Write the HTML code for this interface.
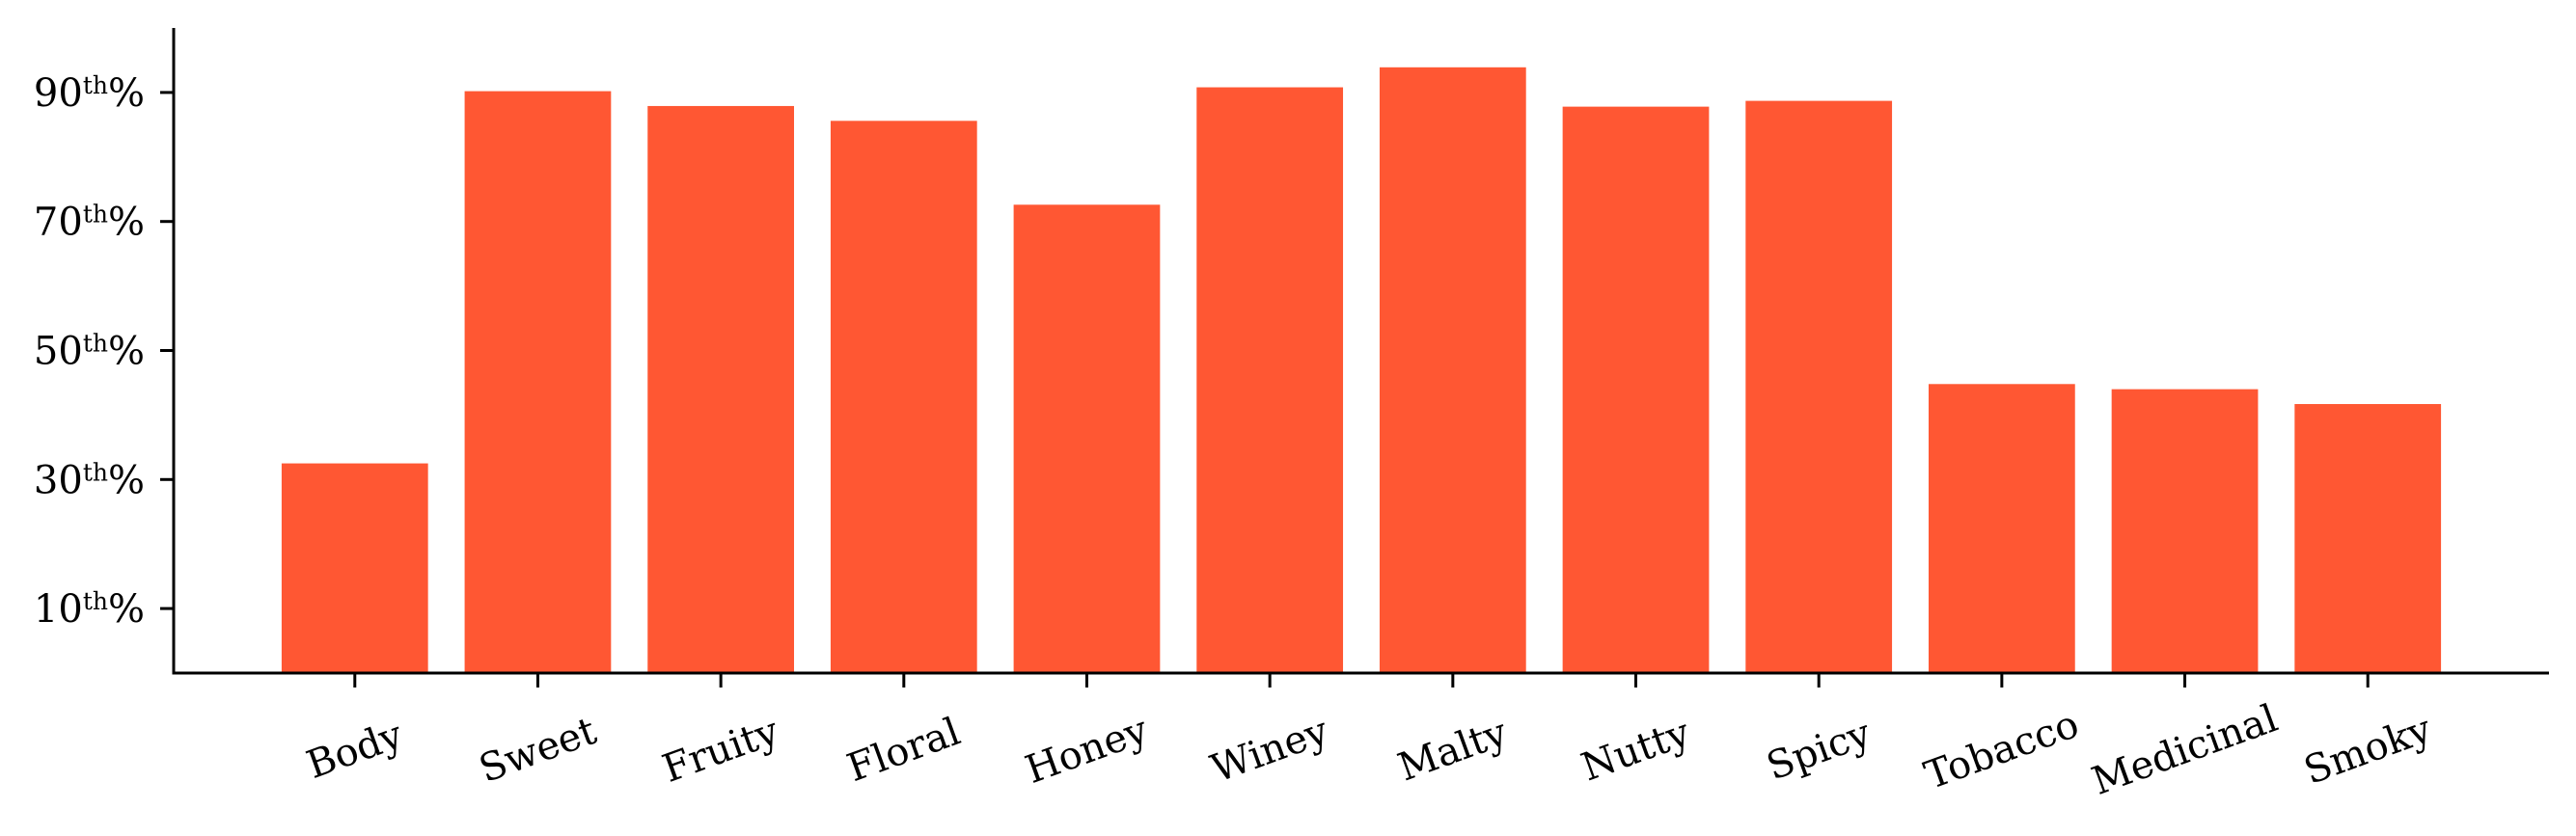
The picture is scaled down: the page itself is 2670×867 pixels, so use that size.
<!DOCTYPE html>
<html><head><meta charset="utf-8"><style>
html,body{margin:0;padding:0;background:#fff;}
svg{display:block;font-family:"DejaVu Serif","Liberation Serif",serif;}
</style></head><body>
<svg id="chart" width="2670" height="867" viewBox="0 0 2670 867" xmlns="http://www.w3.org/2000/svg">
<g id="bars"></g>
<g id="yaxis"></g>
<g id="xaxis"></g>
</svg>
<script>
const categories = ["Body","Sweet","Fruity","Floral","Honey","Winey","Malty","Nutty","Spicy","Tobacco","Medicinal","Smoky"];
const values = [32.5, 90.2, 87.9, 85.6, 72.6, 90.8, 93.9, 87.8, 88.7, 44.8, 44.0, 41.7];
const yTicks = [10, 30, 50, 70, 90];

const NS = "http://www.w3.org/2000/svg";
const pLeft = 180, pRight = 2642, pTop = 29, pBottom = 698;
const yMin = 0, yMax = 100;
const xMin = -0.99, xMax = categories.length - 1 + 0.99;
function xs(i){ return pLeft + (i - xMin) / (xMax - xMin) * (pRight - pLeft); }
function ys(v){ return pBottom - (v - yMin) / (yMax - yMin) * (pBottom - pTop); }
const bw = 0.8 * (xs(1) - xs(0));
function mk(tag, attrs, parent){
  const e = document.createElementNS(NS, tag);
  for (const k in attrs) e.setAttribute(k, attrs[k]);
  parent.appendChild(e);
  return e;
}
const gb = document.getElementById('bars');
const gy = document.getElementById('yaxis');
const gx = document.getElementById('xaxis');

values.forEach((v, i) => {
  const r = mk('rect', {x: xs(i) - bw/2, y: ys(v), width: bw, height: ys(0) - ys(v), fill: '#FF5733'}, gb);
  
  
});

const yl = mk('line', {x1: pLeft, y1: pTop, x2: pLeft, y2: pBottom + 1.5, stroke: '#000', 'stroke-width': 3}, gy);


const xl = mk('line', {x1: pLeft - 1.5, y1: pBottom, x2: pRight, y2: pBottom, stroke: '#000', 'stroke-width': 3}, gx);



yTicks.forEach(t => {
  const y = ys(t);
  const tk = mk('line', {x1: pLeft - 14, y1: y, x2: pLeft, y2: y, stroke: '#000', 'stroke-width': 3}, gy);
  
  
  const tx = mk('text', {x: 150, y: y + 14, 'text-anchor': 'end', 'font-size': 40, fill: '#000'}, gy);
  
  
  tx.appendChild(document.createTextNode(String(t)));
  const sup = mk('tspan', {'font-size': 25, dy: -13}, tx);
  sup.textContent = 'th';
  const pc = mk('tspan', {dy: 13}, tx);
  pc.textContent = '%';
});

categories.forEach((c, i) => {
  const x = xs(i);
  const tk = mk('line', {x1: x, y1: pBottom, x2: x, y2: pBottom + 15, stroke: '#000', 'stroke-width': 3}, gx);
  
  
  const cy = 778;
  const tx = mk('text', {x: x, y: cy, 'text-anchor': 'middle', 'dominant-baseline': 'central', 'font-size': 40, fill: '#000', transform: 'rotate(-20 ' + x + ' ' + cy + ')'}, gx);
  
  
  tx.textContent = c;
});
</script>
</body></html>
